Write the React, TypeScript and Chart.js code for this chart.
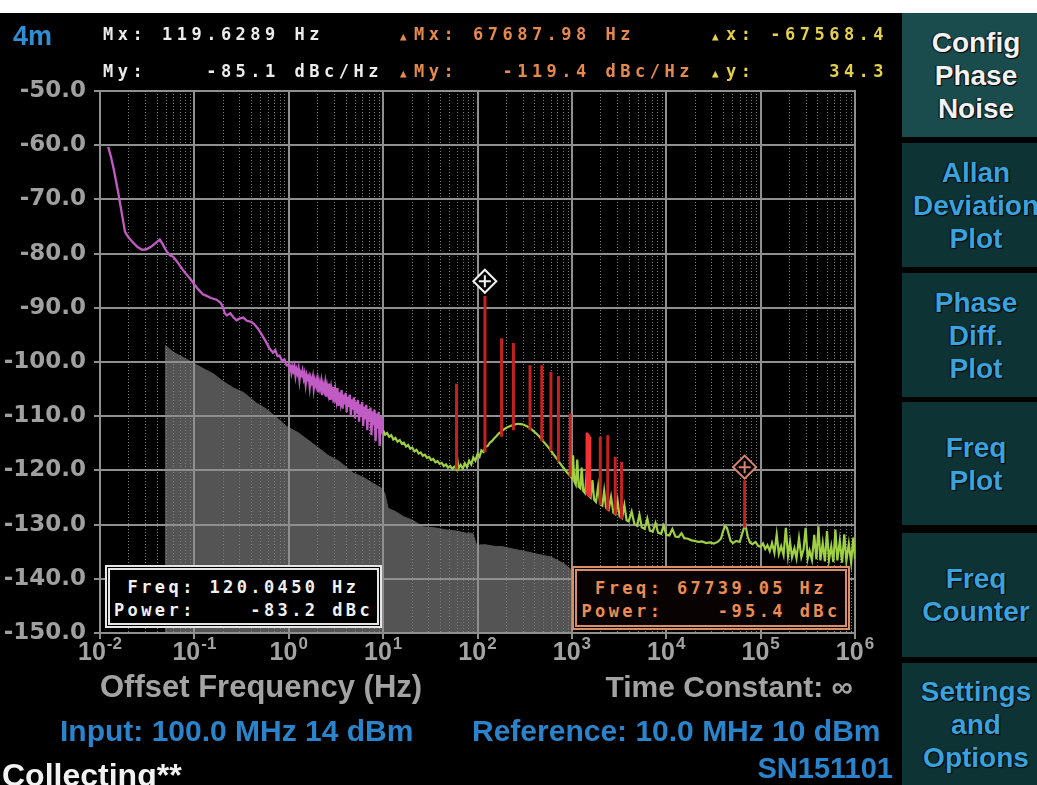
import React, { useEffect, useRef } from "react";
import { Chart, registerables } from "chart.js";

Chart.register(...registerables);

// ---------- data ----------
const Y_TICKS = [-50, -60, -70, -80, -90, -100, -110, -120, -130, -140, -150];
const X_DECADES = [-2, -1, 0, 1, 2, 3, 4, 5, 6];

const floorFreq = [0.0489, 0.06, 0.075, 0.0973, 0.13, 0.16, 0.202, 0.26, 0.33, 0.457, 0.58, 0.75, 0.95, 1.25, 1.6, 1.98, 2.6, 3.4, 4.83, 6.2, 7.85, 9.6, 10.4, 11.3, 13.5, 16.3, 20.5, 26.6, 35, 47.1, 60, 76.7, 89, 97.7, 120, 150, 187, 250, 310, 389, 500, 600, 689, 820, 953, 1000];
const floorDb = [-96.9, -98.2, -99.1, -100.2, -101.4, -102.2, -103.6, -104.8, -105.6, -107.6, -108.7, -110.3, -111.9, -113.0, -114.4, -115.6, -117.2, -118.3, -120.5, -121.3, -122.4, -123.3, -124.2, -127.0, -127.6, -128.5, -129.2, -130.4, -130.6, -131.0, -131.2, -131.6, -131.6, -133.8, -133.7, -134.0, -134.1, -134.6, -134.9, -135.3, -135.7, -136.0, -136.5, -137.2, -138.1, -138.6];

const purpleFreq = [0.0122, 0.013, 0.014, 0.0155, 0.017, 0.0184, 0.02, 0.022, 0.025, 0.028, 0.031, 0.035, 0.039, 0.043, 0.046, 0.05, 0.055, 0.06, 0.065, 0.072, 0.08, 0.09, 0.1, 0.11, 0.123, 0.135, 0.15, 0.172, 0.19, 0.2, 0.21, 0.22, 0.24, 0.26, 0.28, 0.3, 0.33, 0.36, 0.4, 0.43, 0.47, 0.52, 0.57, 0.62, 0.68, 0.72, 0.76, 0.8, 0.85, 0.9, 0.95,
  1.0, 1.02, 1.05, 1.07, 1.1, 1.12, 1.15, 1.18, 1.21, 1.24, 1.27, 1.3, 1.33, 1.37, 1.4, 1.44, 1.47, 1.51, 1.55, 1.59, 1.63, 1.67, 1.71, 1.75, 1.8, 1.84, 1.89, 1.94, 1.99, 2.04, 2.09, 2.14, 2.2, 2.25, 2.31, 2.37, 2.43, 2.49, 2.55, 2.62, 2.68, 2.75, 2.82, 2.89, 2.97, 3.04, 3.12, 3.2, 3.28, 3.36, 3.45, 3.54, 3.63, 3.72, 3.81, 3.91, 4.01, 4.11, 4.22, 4.32, 4.43, 4.55, 4.66, 4.78, 4.9, 5.03, 5.16, 5.29, 5.42, 5.56, 5.7, 5.85, 6.0, 6.15, 6.31, 6.47, 6.63, 6.8, 6.98, 7.15, 7.34, 7.52, 7.72, 7.91, 8.11, 8.32, 8.53, 8.75, 8.98, 9.2, 9.44, 9.68, 10.0];
const purpleDb = [-60.3, -62.0, -64.5, -68.5, -72.5, -76.0, -77.0, -77.8, -78.8, -79.3, -79.2, -78.7, -78.0, -77.4, -78.2, -79.4, -80.3, -80.6, -81.4, -82.5, -83.6, -84.6, -85.7, -86.6, -87.5, -87.8, -88.2, -88.5, -89.1, -89.8, -91.0, -91.4, -91.0, -91.8, -92.3, -92.0, -91.8, -92.4, -92.6, -93.0, -93.8, -95.0, -96.2, -97.4, -98.3, -97.8, -98.9, -98.8, -99.8, -99.5, -100.6,
  -100.6, -101.5, -100.9, -102.0, -101.0, -101.6, -100.8, -102.6, -101.4, -102.1, -101.2, -103.3, -101.9, -102.4, -101.6, -103.0, -102.2, -104.1, -102.4, -103.1, -102.6, -104.6, -103.0, -103.7, -102.7, -104.9, -103.4, -104.3, -103.2, -105.6, -103.7, -104.8, -103.6, -106.1, -104.2, -105.2, -103.9, -106.4, -104.5, -105.8, -104.0, -107.0, -104.9, -106.2, -104.6, -107.5, -105.3, -106.9, -104.8, -108.1, -105.6, -107.3, -105.2, -108.6, -106.0, -107.8, -105.7, -109.2, -106.4, -108.3, -106.0, -109.9, -106.9, -108.8, -106.5, -110.4, -107.3, -109.5, -107.0, -111.0, -107.8, -110.1, -107.4, -111.8, -108.2, -110.6, -107.9, -112.6, -108.7, -111.0, -108.4, -113.5, -109.1, -111.7, -108.8, -114.6, -109.5, -112.3, -109.2, -115.5, -110.0, -113.2, -110.6];

const greenFreq = [10.0, 10.5, 11.0, 11.6, 12.2, 12.8, 13.5, 14.2, 15.0, 15.8, 16.6, 17.5, 18.4, 19.4, 20.4, 21.5, 22.6, 23.8, 25.0, 26.3, 27.7, 29.2, 30.7, 32.3, 34.0, 35.8, 37.7, 39.7, 41.8, 44.0, 46.3, 48.7, 51.3, 54.0, 56.8, 59.8, 61.0, 63.0, 66.3, 69.8, 73.5, 77.4, 81.5, 85.8, 90.3, 95.0,
  100, 105, 110, 116, 122, 128, 135, 142, 150, 160, 170, 180, 195, 210, 230, 250, 270, 300, 330, 360, 390, 420, 455, 490, 530, 580, 630, 690, 750, 820, 890, 960,
  1000, 1030, 1060, 1100, 1140, 1180, 1230, 1270, 1320, 1380, 1440, 1500, 1580, 1650, 1720, 1800, 1900, 2000, 2100, 2200, 2300, 2450, 2600, 2750, 2900, 3050, 3200, 3400, 3600, 3800, 4000, 4300, 4600, 4900, 5200, 5500, 5900, 6300, 6700, 7200, 7700, 8200, 8800, 9400,
  10000, 10800, 11600, 12500, 13500, 14500, 15500, 17000, 18500, 20000, 22000, 24000, 26500, 29000, 32000, 35000, 38000, 40000, 42000, 44000, 46000, 48000, 51000, 55000, 60000, 64000, 67700, 70000, 73000, 77000, 82000, 88000, 94000,
  100000, 106000, 112000, 118000, 125000, 132000, 140000, 148000, 156000, 165000, 175000, 185000, 195000, 205000, 215000, 228000, 240000, 255000, 270000, 285000, 300000, 315000, 330000, 350000, 370000, 390000, 410000, 430000, 455000, 480000, 505000, 530000, 560000, 590000, 620000, 650000, 690000, 730000, 770000, 810000, 860000, 910000, 960000, 1000000];
const greenDb = [-112.6, -113.4, -113.1, -113.8, -113.5, -114.3, -114.0, -114.7, -114.4, -115.1, -114.9, -115.6, -115.3, -116.0, -115.8, -116.5, -116.2, -116.9, -116.7, -117.3, -117.1, -117.7, -117.5, -118.1, -117.9, -118.5, -118.3, -118.8, -118.6, -119.2, -118.9, -119.5, -119.2, -119.7, -119.3, -119.8, -117.8, -119.6, -119.0, -119.7, -118.7, -119.4, -118.2, -118.9, -117.6, -118.2,
  -117.0, -117.5, -116.3, -116.6, -115.6, -115.5, -114.9, -114.6, -114.1, -113.6, -113.1, -112.8, -112.3, -112.0, -111.7, -111.5, -111.4, -111.5, -111.8, -112.2, -112.7, -113.2, -113.8, -114.5, -115.2, -116.0, -116.9, -117.8, -118.7, -119.6, -120.4, -121.0,
  -121.4, -117.2, -122.0, -122.6, -118.0, -123.0, -123.3, -119.5, -123.8, -124.2, -120.3, -124.6, -125.0, -121.8, -125.4, -125.8, -122.9, -126.2, -126.5, -123.8, -126.9, -127.3, -124.9, -127.8, -128.1, -125.6, -128.5, -128.8, -126.4, -129.2, -129.4, -127.6, -129.9, -130.2, -128.2, -130.5, -130.8, -128.9, -131.1, -131.3, -129.7, -131.5, -131.7, -130.2,
  -131.9, -132.0, -130.8, -132.2, -132.3, -131.6, -132.5, -132.6, -132.9, -133.0, -133.2, -133.1, -133.4, -133.3, -133.5, -133.2, -132.6, -131.2, -130.3, -130.6, -131.8, -133.0, -133.4, -133.0, -133.2, -131.6, -130.2, -130.6, -132.2, -133.3, -133.6, -133.2, -133.9,
  -134.1, -133.5, -134.5, -133.8, -134.9, -133.4, -135.2, -131.8, -135.4, -134.0, -135.6, -130.6, -135.8, -133.2, -136.0, -134.4, -136.2, -132.5, -136.0, -134.6, -130.6, -136.3, -134.8, -136.5, -131.9, -136.4, -130.3, -136.6, -133.4, -136.8, -131.2, -136.5, -134.0, -136.9, -130.9, -136.6, -133.0, -137.0, -131.8, -136.7, -133.5, -137.0, -132.4, -136.3];

const spurFreq = [60, 120, 180, 240, 360, 480, 600, 720, 960, 2000, 2400, 2880, 3360, 67739];
const spurBase = [-119.8, -116.6, -113.8, -112.6, -112.6, -114.6, -116.4, -118.4, -121.2, -126.4, -127.4, -128.2, -128.9, -130.6];
const spurTop = [-104.0, -87.8, -95.6, -96.5, -100.6, -100.6, -101.8, -102.6, -109.5, -113.8, -113.5, -117.5, -118.4, -121.8];

const brightSpurFreq = [1440, 1480, 1520, 1560];
const brightSpurBase = [-124.4, -124.6, -124.8, -125.0];
const brightSpurTop = [-113.0, -113.2, -113.4, -113.8];

const markerFreq = [119.6289];
const markerDb = [-85.1];
const deltaMarkerFreq = [67687.98];
const deltaMarkerDb = [-119.4];

// ---------- helpers ----------
const pts = (fs: number[], ds: number[]) => fs.map((f, i) => ({ x: f, y: ds[i] }));
const spurPts = (fs: number[], bs: number[], ts: number[]) =>
  fs.flatMap((f, i) => [{ x: f, y: bs[i] }, { x: f, y: ts[i] }, { x: f, y: null as any }]);

const gridPlugin = {
  id: "pnGrid",
  afterDatasetDraw(chart: any, args: any) {
    if (args.index !== 0) return;
    const { ctx, chartArea: a, scales } = chart;
    const xs = scales.x;
    const ys = scales.y;
    ctx.save();
    ctx.strokeStyle = "#7c7c7c";
    ctx.lineWidth = 1;
    ctx.setLineDash([1, 2]);
    for (let k = 0; k < X_DECADES.length - 1; k++) {
      for (let m = 2; m <= 9; m++) {
        const px = Math.round(xs.getPixelForValue(m * Math.pow(10, X_DECADES[k]))) + 0.5;
        ctx.beginPath();
        ctx.moveTo(px, a.top);
        ctx.lineTo(px, a.bottom);
        ctx.stroke();
      }
    }
    ctx.setLineDash([]);
    ctx.strokeStyle = "#8f8f8f";
    ctx.lineWidth = 2;
    for (const d of X_DECADES) {
      const px = Math.round(xs.getPixelForValue(Math.pow(10, d)));
      ctx.beginPath();
      ctx.moveTo(px, a.top - 1);
      ctx.lineTo(px, a.bottom + 6);
      ctx.stroke();
    }
    for (const v of Y_TICKS) {
      const py = Math.round(ys.getPixelForValue(v));
      ctx.beginPath();
      ctx.moveTo(a.left - 6, py);
      ctx.lineTo(a.right + 1, py);
      ctx.stroke();
    }
    ctx.restore();
  },
  afterDraw(chart: any) {
    const { ctx, scales } = chart;
    const xs = scales.x;
    ctx.save();
    ctx.fillStyle = "#a3a3a3";
    ctx.textBaseline = "alphabetic";
    ctx.textAlign = "left";
    const baseFont = 'bold 25px "Liberation Sans", Arial, sans-serif';
    const expFont = 'bold 17px "Liberation Sans", Arial, sans-serif';
    for (const d of X_DECADES) {
      const px = xs.getPixelForValue(Math.pow(10, d));
      ctx.font = baseFont;
      const wb = ctx.measureText("10").width;
      ctx.font = expFont;
      const exp = String(d);
      const we = ctx.measureText(exp).width;
      const start = px - (wb + we + 1) / 2;
      ctx.font = baseFont;
      ctx.fillText("10", start, 660);
      ctx.font = expFont;
      ctx.fillText(exp, start + wb + 1, 649);
    }
    ctx.restore();
  },
};

const mono = '"DejaVu Sans Mono", "Liberation Mono", monospace';
const sans = '"Liberation Sans", Arial, sans-serif';

const Txt = (p: { x?: number; right?: number; y: number; size: number; color: string; font?: string; ls?: number; children: React.ReactNode }) => (
  <div
    style={{
      position: "absolute",
      left: p.x,
      right: p.right,
      top: p.y,
      fontFamily: p.font ?? sans,
      fontWeight: "bold",
      fontSize: p.size,
      lineHeight: `${p.size}px`,
      color: p.color,
      whiteSpace: "pre",
      letterSpacing: p.ls ?? 0,
    }}
  >
    {p.children}
  </div>
);

const BUTTONS = [
  { top: 13, h: 124, lines: ["Config", "Phase", "Noise"], active: true },
  { top: 143, h: 124, lines: ["Allan", "Deviation", "Plot"], active: false },
  { top: 273, h: 124, lines: ["Phase", "Diff.", "Plot"], active: false },
  { top: 402, h: 123, lines: ["Freq", "Plot"], active: false },
  { top: 533, h: 124, lines: ["Freq", "Counter"], active: false },
  { top: 663, h: 122, lines: ["Settings", "and", "Options"], active: false },
];

export default function App() {
  const ref = useRef<HTMLCanvasElement>(null);

  useEffect(() => {
    const chart = new Chart(ref.current as HTMLCanvasElement, {
      type: "line",
      data: {
        datasets: [
          {
            label: "floor",
            data: pts(floorFreq, floorDb),
            borderColor: "#555555",
            backgroundColor: "#545454",
            borderWidth: 1,
            pointRadius: 0,
            fill: "start",
            order: 10,
          },
          {
            label: "phase noise low",
            data: pts(purpleFreq, purpleDb),
            borderColor: "#c05cc4",
            borderWidth: 2.3,
            pointRadius: 0,
            fill: false,
            order: 6,
          },
          {
            label: "phase noise high",
            data: pts(greenFreq, greenDb),
            borderColor: "#9fd044",
            borderWidth: 2.2,
            pointRadius: 0,
            fill: false,
            order: 6,
          },
          {
            label: "spurs",
            data: spurPts(spurFreq, spurBase, spurTop),
            borderColor: "#c42222",
            borderWidth: 3,
            pointRadius: 0,
            fill: false,
            spanGaps: false,
            order: 4,
          },
          {
            label: "bright spurs",
            data: spurPts(brightSpurFreq, brightSpurBase, brightSpurTop),
            borderColor: "#f03232",
            borderWidth: 2.5,
            pointRadius: 0,
            fill: false,
            spanGaps: false,
            order: 3,
          },
          {
            label: "marker",
            data: pts(markerFreq, markerDb),
            showLine: false,
            pointStyle: "rectRot",
            pointRadius: 11.5,
            pointBorderWidth: 2,
            pointBorderColor: "#f2f2f2",
            pointBackgroundColor: "#000000",
            order: 2,
          },
          {
            label: "marker cross",
            data: pts(markerFreq, markerDb),
            showLine: false,
            pointStyle: "cross",
            pointRadius: 6,
            pointBorderWidth: 2,
            pointBorderColor: "#f2f2f2",
            order: 1,
          },
          {
            label: "delta marker",
            data: pts(deltaMarkerFreq, deltaMarkerDb),
            showLine: false,
            pointStyle: "rectRot",
            pointRadius: 11.5,
            pointBorderWidth: 2,
            pointBorderColor: "#d98470",
            pointBackgroundColor: "#000000",
            order: 2,
          },
          {
            label: "delta marker cross",
            data: pts(deltaMarkerFreq, deltaMarkerDb),
            showLine: false,
            pointStyle: "cross",
            pointRadius: 6,
            pointBorderWidth: 2,
            pointBorderColor: "#d98470",
            order: 1,
          },
        ],
      },
      options: {
        responsive: false,
        animation: false,
        events: [],
        layout: { padding: { top: 91, right: 40, bottom: 112, left: 0 } },
        elements: { line: { tension: 0 } },
        plugins: { legend: { display: false }, tooltip: { enabled: false } },
        scales: {
          x: {
            type: "logarithmic",
            min: 0.01,
            max: 1000000,
            grid: { display: false },
            border: { display: false },
            ticks: { display: false },
            afterFit: (s: any) => {
              s.height = 40;
            },
          },
          y: {
            type: "linear",
            min: -150,
            max: -50,
            grid: { display: false, drawTicks: false, tickLength: 0 },
            border: { display: false },
            ticks: {
              stepSize: 10,
              padding: 14,
              color: "#a0a0a0",
              font: { family: '"DejaVu Sans", sans-serif', weight: "bold", size: 23 },
              callback: (v: any) => Number(v).toFixed(1),
            },
            afterFit: (s: any) => {
              s.width = 100;
            },
          },
        },
      },
      plugins: [gridPlugin],
    } as any);
    return () => chart.destroy();
  }, []);

  const tri = (x: number, y: number, color: string) => (
    <div style={{ position: "absolute", left: x, top: y, fontFamily: mono, fontSize: 11, lineHeight: "11px", color }}>▲</div>
  );

  return (
    <div style={{ position: "fixed", left: 0, top: 0, width: 1037, height: 785, background: "#000", overflow: "hidden" }}>
      <canvas ref={ref} width={895} height={785} style={{ position: "absolute", left: 0, top: 0, width: 895, height: 785 }} />
      <div style={{ position: "absolute", left: 0, top: 0, width: 1037, height: 13, background: "#fff" }} />

      {/* header */}
      <Txt x={13} y={23} size={27} color="#2f8fd6">4m</Txt>
      <Txt x={103} y={26} size={17} color="#ececec" font={mono} ls={4.5}>{"Mx: 119.6289 Hz"}</Txt>
      <Txt x={103} y={63} size={17} color="#ececec" font={mono} ls={4.5}>{"My:    -85.1 dBc/Hz"}</Txt>
      {tri(400, 31, "#e5894f")}
      {tri(400, 68, "#e5894f")}
      <Txt x={414} y={26} size={17} color="#e5894f" font={mono} ls={4.5}>{"Mx: 67687.98 Hz"}</Txt>
      <Txt x={414} y={63} size={17} color="#e5894f" font={mono} ls={4.5}>{"My:   -119.4 dBc/Hz"}</Txt>
      {tri(712, 31, "#e4d04c")}
      {tri(712, 68, "#e4d04c")}
      <Txt x={726} y={26} size={17} color="#e4d04c" font={mono} ls={4.5}>{"x: -67568.4"}</Txt>
      <Txt x={726} y={63} size={17} color="#e4d04c" font={mono} ls={4.5}>{"y:     34.3"}</Txt>

      {/* marker boxes */}
      <div style={{ position: "absolute", left: 105, top: 565, width: 277, height: 63, boxSizing: "border-box", border: "5px double #e6e6e6", background: "#000" }} />
      <div style={{ position: "absolute", left: 105, top: 579, width: 277, textAlign: "center", fontFamily: mono, fontWeight: "bold", fontSize: 17, lineHeight: "17px", letterSpacing: 3.4, color: "#f0f0f0", whiteSpace: "pre" }}>
        {"Freq: 120.0450 Hz"}
      </div>
      <div style={{ position: "absolute", left: 105, top: 602, width: 277, textAlign: "center", fontFamily: mono, fontWeight: "bold", fontSize: 17, lineHeight: "17px", letterSpacing: 3.4, color: "#f0f0f0", whiteSpace: "pre" }}>
        {"Power:    -83.2 dBc"}
      </div>
      <div style={{ position: "absolute", left: 572, top: 566, width: 278, height: 64, boxSizing: "border-box", border: "5px double #d88f68", background: "#080302" }} />
      <div style={{ position: "absolute", left: 572, top: 580, width: 278, textAlign: "center", fontFamily: mono, fontWeight: "bold", fontSize: 17, lineHeight: "17px", letterSpacing: 3.4, color: "#ec8c52", whiteSpace: "pre" }}>
        {"Freq: 67739.05 Hz"}
      </div>
      <div style={{ position: "absolute", left: 572, top: 603, width: 278, textAlign: "center", fontFamily: mono, fontWeight: "bold", fontSize: 17, lineHeight: "17px", letterSpacing: 3.4, color: "#ec8c52", whiteSpace: "pre" }}>
        {"Power:    -95.4 dBc"}
      </div>

      {/* bottom texts */}
      <Txt x={100} y={671} size={31} color="#a3a3a3">Offset Frequency (Hz)</Txt>
      <Txt right={1037 - 853} y={672} size={30} color="#a3a3a3">Time Constant: ∞</Txt>
      <Txt x={60} y={716} size={30} color="#2a84cc">Input: 100.0 MHz 14 dBm</Txt>
      <Txt x={472} y={716} size={30} color="#2a84cc">Reference: 10.0 MHz 10 dBm</Txt>
      <Txt x={2} y={759} size={32} color="#f2f2f2">Collecting**</Txt>
      <Txt right={1037 - 893} y={754} size={29} color="#2a84cc">SN151101</Txt>

      {/* side buttons */}
      {BUTTONS.map((b, i) => (
        <div
          key={i}
          style={{
            position: "absolute",
            left: 902,
            top: b.top,
            width: 160,
            height: b.h,
            background: b.active ? "#1b4c4d" : "#0e3335",
            display: "flex",
            flexDirection: "column",
            justifyContent: "center",
          }}
        >
          {b.lines.map((l, j) => (
            <div
              key={j}
              style={{
                width: 148,
                textAlign: "center",
                fontFamily: sans,
                fontWeight: "bold",
                fontSize: 28,
                lineHeight: "33px",
                color: b.active ? "#f2f2f2" : "#3aa2dc",
                textShadow: "1px 1px 1px #000, -1px 0 1px #000",
                whiteSpace: "nowrap",
                display: "flex",
                justifyContent: "center",
              }}
            >
              {l}
            </div>
          ))}
        </div>
      ))}
    </div>
  );
}
